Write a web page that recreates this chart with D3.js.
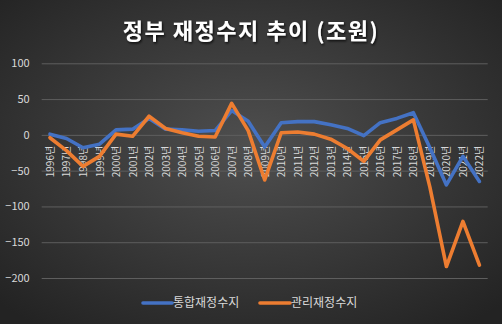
<!DOCTYPE html>
<html>
<head>
<meta charset="utf-8">
<script src="https://cdn.jsdelivr.net/npm/d3@7"></script>
<style>
  html, body { margin: 0; padding: 0; background: #2b2b2b; }
  svg { display: block; }
</style>
</head>
<body>
<svg id="chart" width="502" height="324"></svg>
<script>
// Fiscal balance by year (trillion won)
const years = ["1996년","1997년","1998년","1999년","2000년","2001년","2002년","2003년","2004년",
  "2005년","2006년","2007년","2008년","2009년","2010년","2011년","2012년","2013년","2014년",
  "2015년","2016년","2017년","2018년","2019년","2020년","2021년","2022년"];
const integratedBalance = [1, -5, -18, -13, 7, 8, 23, 8, 7, 5, 6, 34, 19, -17, 17, 18.5, 18.5, 14, 9,
  -1, 17, 23, 31, -18, -70, -30, -65];
const managedBalance = [-4, -22, -44, -30, 1, -2, 26, 9, 3, -2, -3, 44, 6, -63, 3, 4, 1, -6, -19,
  -37, -7, 7, 21, -73, -184, -121, -182];
const yTicks = [100, 50, 0, -50, -100, -150, -200];
const seriesNames = ["통합재정수지", "관리재정수지"];
const seriesColors = ["#4472C4", "#ED7D31"];

const W = 502, H = 324;
const svg = d3.select("#chart");
const defs = svg.append("defs");

const bg = defs.append("radialGradient").attr("id", "bg")
  .attr("cx", "50%").attr("cy", "45%").attr("r", "70%");
bg.append("stop").attr("offset", "0%").attr("stop-color", "#4f4f4f");
bg.append("stop").attr("offset", "100%").attr("stop-color", "#232323");

const shadow = defs.append("filter").attr("id", "tshadow")
  .attr("x", "-10%").attr("y", "-30%").attr("width", "120%").attr("height", "160%");
shadow.append("feDropShadow").attr("dx", 1).attr("dy", 1.5).attr("stdDeviation", 1.2)
  .attr("flood-color", "#000").attr("flood-opacity", 0.8);

svg.append("rect").attr("width", W).attr("height", H).attr("fill", "url(#bg)");

const fontFamily = "'Noto Sans CJK KR', 'Noto Sans', sans-serif";

// Title
svg.append("text")
  .attr("x", 251).attr("y", 39)
  .attr("text-anchor", "middle")
  .attr("font-family", fontFamily)
  .attr("font-weight", "bold")
  .attr("font-size", 22)
  .attr("letter-spacing", 1.5)
  .attr("fill", "#ffffff")
  .attr("filter", "url(#tshadow)")
  .text("정부 재정수지 추이 (조원)");

const plot = { left: 41.7, right: 487.7, top: 63.3, bottom: 278 };

const x = d3.scalePoint().domain(years).range([plot.left, plot.right]).padding(0.5);
const y = d3.scaleLinear().domain([-200, 100]).range([plot.bottom, plot.top]);

// Horizontal gridlines and value labels
const yAxis = d3.axisLeft(y).tickValues(yTicks)
  .tickSize(-(plot.right - plot.left)).tickPadding(12);
const gy = svg.append("g").attr("transform", `translate(${plot.left},0)`).call(yAxis);
gy.select(".domain").remove();
gy.selectAll(".tick line").attr("stroke", "#5e5e5e").attr("stroke-width", 1);
gy.selectAll(".tick text")
  .attr("fill", "#d9d9d9")
  .attr("font-family", fontFamily)
  .attr("font-size", 11);

// Category labels, rotated, hanging below the zero line
const xAxis = d3.axisBottom(x).tickSize(0).tickPadding(0);
const gx = svg.append("g").attr("transform", `translate(0,${y(0)})`).call(xAxis);
gx.select(".domain").remove();
gx.selectAll(".tick text")
  .attr("fill", "#d9d9d9")
  .attr("font-family", fontFamily)
  .attr("font-size", 10)
  .attr("text-anchor", "end")
  .attr("dy", "0.35em")
  .attr("transform", "translate(0,11) rotate(-90)")
  .attr("x", 0).attr("y", 0);

// Series lines
const line = d3.line().x((d, i) => x(years[i])).y(d => y(d));
[integratedBalance, managedBalance].forEach((vals, k) => {
  svg.append("path")
    .datum(vals)
    .attr("d", line)
    .attr("fill", "none")
    .attr("stroke", seriesColors[k])
    .attr("stroke-width", 3.6)
    .attr("stroke-linejoin", "round")
    .attr("stroke-linecap", "round");
});

// Legend
const legendItems = [
  { x1: 143, x2: 172 },
  { x1: 260, x2: 290 }
];
const ly = 303;
legendItems.forEach((it, k) => {
  svg.append("line")
    .attr("x1", it.x1).attr("x2", it.x2).attr("y1", ly).attr("y2", ly)
    .attr("stroke", seriesColors[k]).attr("stroke-width", 3.6)
    .attr("stroke-linecap", "round");
  svg.append("text")
    .attr("x", it.x2 + 1).attr("y", ly).attr("dy", "0.35em")
    .attr("font-family", fontFamily).attr("font-size", 12)
    .attr("fill", "#d9d9d9")
    .text(seriesNames[k]);
});
</script>
</body>
</html>
